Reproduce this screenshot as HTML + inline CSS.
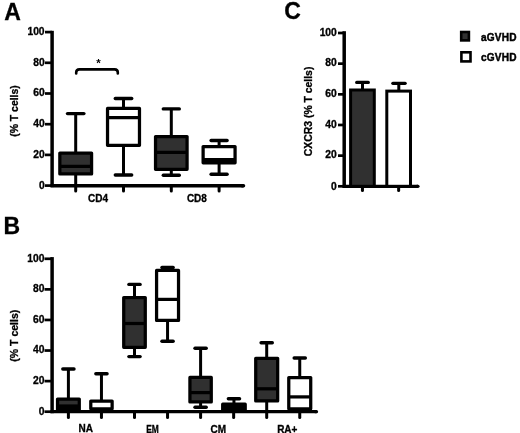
<!DOCTYPE html>
<html><head><meta charset="utf-8"><style>
html,body{margin:0;padding:0;background:#fff;}
body{width:520px;height:433px;overflow:hidden;}
svg{display:block;will-change:transform;}
text{stroke:#000;stroke-width:0.3px;font-family:"Liberation Sans", sans-serif;font-weight:bold;}
</style></head><body>
<svg width="520" height="433" viewBox="0 0 520 433">
<rect width="520" height="433" fill="#fff"/>
<g font-family="Liberation Sans, sans-serif" font-weight="bold" fill="#000">
<text x="4.30" y="20.20" font-size="23" text-anchor="start" >A</text>
<line x1="45.00" y1="185.60" x2="52.10" y2="185.60" stroke="#000" stroke-width="2.7" stroke-linecap="butt"/>
<text transform="translate(44.60 189.20) scale(1.03 1)" font-size="10" text-anchor="end">0</text>
<line x1="45.00" y1="154.90" x2="52.10" y2="154.90" stroke="#000" stroke-width="2.7" stroke-linecap="butt"/>
<text transform="translate(44.60 157.60) scale(1.03 1)" font-size="10" text-anchor="end">20</text>
<line x1="45.00" y1="124.20" x2="52.10" y2="124.20" stroke="#000" stroke-width="2.7" stroke-linecap="butt"/>
<text transform="translate(44.60 126.90) scale(1.03 1)" font-size="10" text-anchor="end">40</text>
<line x1="45.00" y1="93.50" x2="52.10" y2="93.50" stroke="#000" stroke-width="2.7" stroke-linecap="butt"/>
<text transform="translate(44.60 96.20) scale(1.03 1)" font-size="10" text-anchor="end">60</text>
<line x1="45.00" y1="62.80" x2="52.10" y2="62.80" stroke="#000" stroke-width="2.7" stroke-linecap="butt"/>
<text transform="translate(44.60 65.50) scale(1.03 1)" font-size="10" text-anchor="end">80</text>
<line x1="45.00" y1="32.10" x2="52.10" y2="32.10" stroke="#000" stroke-width="2.7" stroke-linecap="butt"/>
<text transform="translate(44.60 34.80) scale(1.03 1)" font-size="10" text-anchor="end">100</text>
<line x1="52.10" y1="30.80" x2="52.10" y2="187.10" stroke="#000" stroke-width="3.5" stroke-linecap="butt"/>
<line x1="50.50" y1="185.80" x2="243.50" y2="185.80" stroke="#000" stroke-width="3.5" stroke-linecap="butt"/>
<line x1="242.00" y1="185.80" x2="243.50" y2="185.80" stroke="#000" stroke-width="3.5" stroke-linecap="round"/>
<line x1="75.70" y1="185.60" x2="75.70" y2="191.00" stroke="#000" stroke-width="3" stroke-linecap="round"/>
<line x1="123.50" y1="185.60" x2="123.50" y2="191.00" stroke="#000" stroke-width="3" stroke-linecap="round"/>
<line x1="171.30" y1="185.60" x2="171.30" y2="191.00" stroke="#000" stroke-width="3" stroke-linecap="round"/>
<line x1="219.10" y1="185.60" x2="219.10" y2="191.00" stroke="#000" stroke-width="3" stroke-linecap="round"/>
<line x1="75.70" y1="113.60" x2="75.70" y2="152.40" stroke="#000" stroke-width="3.0" stroke-linecap="butt"/>
<line x1="67.50" y1="113.60" x2="83.90" y2="113.60" stroke="#000" stroke-width="3.4" stroke-linecap="round"/>
<rect x="59.83" y="153.03" width="31.75" height="20.95" fill="#303030" stroke="#000" stroke-width="3.25" stroke-linejoin="round"/>
<line x1="59.83" y1="166.30" x2="91.58" y2="166.30" stroke="#000" stroke-width="3.25" stroke-linecap="butt"/>
<line x1="75.70" y1="174.60" x2="75.70" y2="185.60" stroke="#000" stroke-width="3.0" stroke-linecap="butt"/>
<line x1="123.50" y1="98.50" x2="123.50" y2="107.80" stroke="#000" stroke-width="3.0" stroke-linecap="butt"/>
<line x1="115.30" y1="98.50" x2="131.70" y2="98.50" stroke="#000" stroke-width="3.4" stroke-linecap="round"/>
<line x1="123.50" y1="146.00" x2="123.50" y2="175.00" stroke="#000" stroke-width="3.0" stroke-linecap="butt"/>
<line x1="115.30" y1="175.00" x2="131.70" y2="175.00" stroke="#000" stroke-width="3.4" stroke-linecap="round"/>
<rect x="107.53" y="108.42" width="31.95" height="36.95" fill="#fff" stroke="#000" stroke-width="3.25" stroke-linejoin="round"/>
<line x1="107.53" y1="117.50" x2="139.47" y2="117.50" stroke="#000" stroke-width="3.25" stroke-linecap="butt"/>
<line x1="171.30" y1="108.90" x2="171.30" y2="136.00" stroke="#000" stroke-width="3.0" stroke-linecap="butt"/>
<line x1="163.30" y1="108.90" x2="179.30" y2="108.90" stroke="#000" stroke-width="3.4" stroke-linecap="round"/>
<line x1="171.30" y1="170.00" x2="171.30" y2="175.30" stroke="#000" stroke-width="3.0" stroke-linecap="butt"/>
<line x1="163.30" y1="175.30" x2="179.30" y2="175.30" stroke="#000" stroke-width="3.4" stroke-linecap="round"/>
<rect x="155.53" y="136.62" width="31.55" height="32.75" fill="#303030" stroke="#000" stroke-width="3.25" stroke-linejoin="round"/>
<line x1="155.53" y1="152.40" x2="187.08" y2="152.40" stroke="#000" stroke-width="3.25" stroke-linecap="butt"/>
<line x1="219.10" y1="140.50" x2="219.10" y2="146.00" stroke="#000" stroke-width="3.0" stroke-linecap="butt"/>
<line x1="211.10" y1="140.50" x2="227.10" y2="140.50" stroke="#000" stroke-width="3.4" stroke-linecap="round"/>
<line x1="219.10" y1="163.40" x2="219.10" y2="174.30" stroke="#000" stroke-width="3.0" stroke-linecap="butt"/>
<line x1="211.10" y1="174.30" x2="227.10" y2="174.30" stroke="#000" stroke-width="3.4" stroke-linecap="round"/>
<rect x="203.12" y="146.62" width="31.95" height="16.15" fill="#fff" stroke="#000" stroke-width="3.25" stroke-linejoin="round"/>
<line x1="203.12" y1="160.30" x2="235.07" y2="160.30" stroke="#000" stroke-width="4.6" stroke-linecap="butt"/>
<path d="M76.2 73.4 V72.6 Q76.2 69.4 79.4 69.4 H114.6 Q117.8 69.4 117.8 72.6 V73.4" fill="none" stroke="#000" stroke-width="2.6" stroke-linecap="round"/>
<text x="98.40" y="67.40" font-size="11.5" text-anchor="middle" style="stroke-width:0">*</text>
<text x="98.00" y="201.80" font-size="10" text-anchor="middle" >CD4</text>
<text x="196.90" y="201.80" font-size="10" text-anchor="middle" >CD8</text>
<text x="0.00" y="0.00" font-size="10" text-anchor="middle" textLength="51.5" lengthAdjust="spacingAndGlyphs" transform="translate(18.4 111) rotate(-90)">(% T cells)</text>
<text x="284.30" y="19.20" font-size="23" text-anchor="start" >C</text>
<line x1="338.00" y1="186.30" x2="344.20" y2="186.30" stroke="#000" stroke-width="2.7" stroke-linecap="butt"/>
<text transform="translate(336.80 189.90) scale(1.03 1)" font-size="10" text-anchor="end">0</text>
<line x1="338.00" y1="155.64" x2="344.20" y2="155.64" stroke="#000" stroke-width="2.7" stroke-linecap="butt"/>
<text transform="translate(336.80 158.34) scale(1.03 1)" font-size="10" text-anchor="end">20</text>
<line x1="338.00" y1="124.98" x2="344.20" y2="124.98" stroke="#000" stroke-width="2.7" stroke-linecap="butt"/>
<text transform="translate(336.80 127.68) scale(1.03 1)" font-size="10" text-anchor="end">40</text>
<line x1="338.00" y1="94.32" x2="344.20" y2="94.32" stroke="#000" stroke-width="2.7" stroke-linecap="butt"/>
<text transform="translate(336.80 97.02) scale(1.03 1)" font-size="10" text-anchor="end">60</text>
<line x1="338.00" y1="63.66" x2="344.20" y2="63.66" stroke="#000" stroke-width="2.7" stroke-linecap="butt"/>
<text transform="translate(336.80 66.36) scale(1.03 1)" font-size="10" text-anchor="end">80</text>
<line x1="338.00" y1="33.00" x2="344.20" y2="33.00" stroke="#000" stroke-width="2.7" stroke-linecap="butt"/>
<text transform="translate(336.80 35.70) scale(1.03 1)" font-size="10" text-anchor="end">100</text>
<line x1="344.20" y1="31.20" x2="344.20" y2="187.80" stroke="#000" stroke-width="3.5" stroke-linecap="butt"/>
<line x1="342.70" y1="186.30" x2="418.00" y2="186.30" stroke="#000" stroke-width="3.2" stroke-linecap="butt"/>
<line x1="417.00" y1="186.30" x2="418.00" y2="186.30" stroke="#000" stroke-width="3.2" stroke-linecap="round"/>
<line x1="362.45" y1="186.30" x2="362.45" y2="190.50" stroke="#000" stroke-width="3" stroke-linecap="round"/>
<line x1="398.65" y1="186.30" x2="398.65" y2="190.50" stroke="#000" stroke-width="3" stroke-linecap="round"/>
<line x1="362.50" y1="82.40" x2="362.50" y2="90.00" stroke="#000" stroke-width="3" stroke-linecap="butt"/>
<line x1="356.70" y1="82.40" x2="368.30" y2="82.40" stroke="#000" stroke-width="3.2" stroke-linecap="round"/>
<line x1="398.80" y1="83.30" x2="398.80" y2="91.00" stroke="#000" stroke-width="3" stroke-linecap="butt"/>
<line x1="392.80" y1="83.30" x2="405.20" y2="83.30" stroke="#000" stroke-width="3.2" stroke-linecap="round"/>
<rect x="350.6" y="90.0" width="23.69999999999999" height="96.30000000000001" fill="#303030" stroke="#000" stroke-width="3"/>
<rect x="386.8" y="91.1" width="23.69999999999999" height="95.20000000000002" fill="#fff" stroke="#000" stroke-width="3"/>
<text x="0.00" y="0.00" font-size="10" text-anchor="middle" textLength="89.5" lengthAdjust="spacingAndGlyphs" transform="translate(312.0 111.4) rotate(-90)">CXCR3 (% T cells)</text>
<rect x="461.2" y="32" width="7.7" height="8.4" fill="#303030" stroke="#000" stroke-width="2.6"/>
<rect x="461.4" y="52.3" width="9.1" height="9.1" fill="#fff" stroke="#000" stroke-width="2.6"/>
<text x="481.00" y="40.90" font-size="10.1" text-anchor="start" textLength="35.5" lengthAdjust="spacing" style="stroke-width:0.45px">aGVHD</text>
<text x="481.00" y="61.10" font-size="10.1" text-anchor="start" textLength="35.5" lengthAdjust="spacing" style="stroke-width:0.45px">cGVHD</text>
<text x="3.60" y="233.60" font-size="23" text-anchor="start" >B</text>
<line x1="44.50" y1="411.70" x2="52.10" y2="411.70" stroke="#000" stroke-width="2.7" stroke-linecap="butt"/>
<text transform="translate(44.40 415.30) scale(1.03 1)" font-size="10" text-anchor="end">0</text>
<line x1="44.50" y1="381.12" x2="52.10" y2="381.12" stroke="#000" stroke-width="2.7" stroke-linecap="butt"/>
<text transform="translate(44.40 383.82) scale(1.03 1)" font-size="10" text-anchor="end">20</text>
<line x1="44.50" y1="350.54" x2="52.10" y2="350.54" stroke="#000" stroke-width="2.7" stroke-linecap="butt"/>
<text transform="translate(44.40 353.24) scale(1.03 1)" font-size="10" text-anchor="end">40</text>
<line x1="44.50" y1="319.96" x2="52.10" y2="319.96" stroke="#000" stroke-width="2.7" stroke-linecap="butt"/>
<text transform="translate(44.40 322.66) scale(1.03 1)" font-size="10" text-anchor="end">60</text>
<line x1="44.50" y1="289.38" x2="52.10" y2="289.38" stroke="#000" stroke-width="2.7" stroke-linecap="butt"/>
<text transform="translate(44.40 292.08) scale(1.03 1)" font-size="10" text-anchor="end">80</text>
<line x1="44.50" y1="258.80" x2="52.10" y2="258.80" stroke="#000" stroke-width="2.7" stroke-linecap="butt"/>
<text transform="translate(44.40 261.50) scale(1.03 1)" font-size="10" text-anchor="end">100</text>
<line x1="52.10" y1="257.10" x2="52.10" y2="413.20" stroke="#000" stroke-width="3.5" stroke-linecap="butt"/>
<line x1="50.50" y1="411.70" x2="316.50" y2="411.70" stroke="#000" stroke-width="3.2" stroke-linecap="butt"/>
<line x1="315.50" y1="411.70" x2="316.50" y2="411.70" stroke="#000" stroke-width="3.2" stroke-linecap="round"/>
<line x1="68.40" y1="411.70" x2="68.40" y2="417.50" stroke="#000" stroke-width="3" stroke-linecap="round"/>
<line x1="101.45" y1="411.70" x2="101.45" y2="417.50" stroke="#000" stroke-width="3" stroke-linecap="round"/>
<line x1="134.50" y1="411.70" x2="134.50" y2="417.50" stroke="#000" stroke-width="3" stroke-linecap="round"/>
<line x1="167.55" y1="411.70" x2="167.55" y2="417.50" stroke="#000" stroke-width="3" stroke-linecap="round"/>
<line x1="200.60" y1="411.70" x2="200.60" y2="417.50" stroke="#000" stroke-width="3" stroke-linecap="round"/>
<line x1="233.65" y1="411.70" x2="233.65" y2="417.50" stroke="#000" stroke-width="3" stroke-linecap="round"/>
<line x1="266.70" y1="411.70" x2="266.70" y2="417.50" stroke="#000" stroke-width="3" stroke-linecap="round"/>
<line x1="299.75" y1="411.70" x2="299.75" y2="417.50" stroke="#000" stroke-width="3" stroke-linecap="round"/>
<line x1="68.40" y1="369.00" x2="68.40" y2="398.40" stroke="#000" stroke-width="3.0" stroke-linecap="butt"/>
<line x1="62.80" y1="369.00" x2="74.00" y2="369.00" stroke="#000" stroke-width="3.4" stroke-linecap="round"/>
<rect x="57.53" y="399.02" width="21.75" height="12.05" fill="#303030" stroke="#000" stroke-width="3.25" stroke-linejoin="round"/>
<line x1="57.40" y1="407.50" x2="79.40" y2="407.50" stroke="#000" stroke-width="6.2" stroke-linecap="butt"/>
<line x1="101.45" y1="373.80" x2="101.45" y2="400.40" stroke="#000" stroke-width="3.0" stroke-linecap="butt"/>
<line x1="95.85" y1="373.80" x2="107.05" y2="373.80" stroke="#000" stroke-width="3.4" stroke-linecap="round"/>
<rect x="90.78" y="401.02" width="21.35" height="7.85" fill="#fff" stroke="#000" stroke-width="3.25" stroke-linejoin="round"/>
<line x1="134.50" y1="284.40" x2="134.50" y2="297.00" stroke="#000" stroke-width="3.0" stroke-linecap="butt"/>
<line x1="128.90" y1="284.40" x2="140.10" y2="284.40" stroke="#000" stroke-width="3.4" stroke-linecap="round"/>
<line x1="134.50" y1="348.00" x2="134.50" y2="356.60" stroke="#000" stroke-width="3.0" stroke-linecap="butt"/>
<line x1="128.90" y1="356.60" x2="140.10" y2="356.60" stroke="#000" stroke-width="3.4" stroke-linecap="round"/>
<rect x="123.72" y="297.62" width="21.55" height="49.75" fill="#303030" stroke="#000" stroke-width="3.25" stroke-linejoin="round"/>
<line x1="123.72" y1="323.50" x2="145.28" y2="323.50" stroke="#000" stroke-width="3.25" stroke-linecap="butt"/>
<line x1="167.55" y1="267.50" x2="167.55" y2="269.80" stroke="#000" stroke-width="3.0" stroke-linecap="butt"/>
<line x1="161.95" y1="267.50" x2="173.15" y2="267.50" stroke="#000" stroke-width="3.4" stroke-linecap="round"/>
<line x1="167.55" y1="321.00" x2="167.55" y2="341.30" stroke="#000" stroke-width="3.0" stroke-linecap="butt"/>
<line x1="161.95" y1="341.30" x2="173.15" y2="341.30" stroke="#000" stroke-width="3.4" stroke-linecap="round"/>
<rect x="156.58" y="270.43" width="21.95" height="49.95" fill="#fff" stroke="#000" stroke-width="3.25" stroke-linejoin="round"/>
<line x1="156.58" y1="299.40" x2="178.53" y2="299.40" stroke="#000" stroke-width="3.25" stroke-linecap="butt"/>
<line x1="200.60" y1="348.30" x2="200.60" y2="376.80" stroke="#000" stroke-width="3.0" stroke-linecap="butt"/>
<line x1="195.00" y1="348.30" x2="206.20" y2="348.30" stroke="#000" stroke-width="3.4" stroke-linecap="round"/>
<line x1="200.60" y1="402.50" x2="200.60" y2="407.20" stroke="#000" stroke-width="3.0" stroke-linecap="butt"/>
<line x1="195.00" y1="407.20" x2="206.20" y2="407.20" stroke="#000" stroke-width="3.4" stroke-linecap="round"/>
<rect x="189.92" y="377.43" width="21.35" height="24.45" fill="#303030" stroke="#000" stroke-width="3.25" stroke-linejoin="round"/>
<line x1="189.92" y1="392.60" x2="211.28" y2="392.60" stroke="#000" stroke-width="3.25" stroke-linecap="butt"/>
<line x1="233.95" y1="398.80" x2="233.95" y2="403.60" stroke="#000" stroke-width="3.0" stroke-linecap="butt"/>
<line x1="228.35" y1="398.80" x2="239.55" y2="398.80" stroke="#000" stroke-width="3.4" stroke-linecap="round"/>
<rect x="222.68" y="404.23" width="22.55" height="6.85" fill="#000" stroke="#000" stroke-width="3.25" stroke-linejoin="round"/>
<line x1="266.70" y1="401.00" x2="266.70" y2="411.70" stroke="#000" stroke-width="3.0" stroke-linecap="butt"/>
<line x1="266.70" y1="342.80" x2="266.70" y2="357.70" stroke="#000" stroke-width="3.0" stroke-linecap="butt"/>
<line x1="261.10" y1="342.80" x2="272.30" y2="342.80" stroke="#000" stroke-width="3.4" stroke-linecap="round"/>
<rect x="255.72" y="358.32" width="21.95" height="42.65" fill="#303030" stroke="#000" stroke-width="3.25" stroke-linejoin="round"/>
<line x1="255.72" y1="388.80" x2="277.68" y2="388.80" stroke="#000" stroke-width="3.25" stroke-linecap="butt"/>
<line x1="299.75" y1="358.00" x2="299.75" y2="376.90" stroke="#000" stroke-width="3.0" stroke-linecap="butt"/>
<line x1="294.15" y1="358.00" x2="305.35" y2="358.00" stroke="#000" stroke-width="3.4" stroke-linecap="round"/>
<rect x="288.77" y="377.52" width="21.95" height="31.35" fill="#fff" stroke="#000" stroke-width="3.25" stroke-linejoin="round"/>
<line x1="288.77" y1="396.90" x2="310.73" y2="396.90" stroke="#000" stroke-width="3.25" stroke-linecap="butt"/>
<text x="85.80" y="431.60" font-size="10" text-anchor="middle" >NA</text>
<text x="152.50" y="432.60" font-size="10" text-anchor="middle" textLength="12.6" lengthAdjust="spacingAndGlyphs" >EM</text>
<text x="218.30" y="432.60" font-size="10" text-anchor="middle" >CM</text>
<text x="287.30" y="432.60" font-size="10" text-anchor="middle" >RA+</text>
<text x="0.00" y="0.00" font-size="10" text-anchor="middle" textLength="52" lengthAdjust="spacingAndGlyphs" transform="translate(18.4 335.7) rotate(-90)">(% T cells)</text>
</g></svg>
</body></html>
